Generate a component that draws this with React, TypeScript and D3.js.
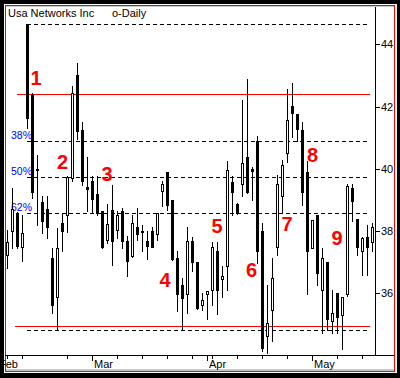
import React from "react";
import * as d3 from "d3";

// Daily OHLC, trading-day index 0..73 (early Feb .. mid May)
const opens = [37.24,38.00,38.58,37.49,44.65,42.37,40.00,38.93,38.71,37.13,35.88,38.26,38.52,39.70,43.01,41.25,39.40,39.61,39.19,38.64,37.71,38.68,38.03,38.64,37.68,37.20,38.13,38.00,37.68,38.00,37.90,39.29,39.90,39.00,37.13,36.27,35.98,37.68,37.01,35.62,35.98,36.11,37.36,36.46,36.88,39.58,38.87,39.51,40.38,39.98,40.89,38.00,34.63,35.46,37.49,39.13,40.51,42.02,41.76,41.25,39.90,37.46,38.52,36.11,37.01,35.11,36.01,35.30,35.98,39.38,38.39,37.36,37.81,37.65];
const highs = [38.03,39.38,38.60,38.52,44.65,42.44,40.44,39.13,39.13,37.46,38.10,38.55,39.77,42.66,43.40,41.50,40.38,39.77,39.77,38.64,38.87,39.48,38.64,38.74,37.84,38.52,38.74,38.19,38.00,38.13,38.58,39.61,39.90,39.00,37.36,36.49,38.13,37.81,37.01,36.01,36.07,37.65,37.65,36.88,40.25,39.77,38.90,42.21,42.89,40.06,41.05,38.26,36.27,37.13,39.80,40.28,42.56,42.76,41.76,41.50,40.25,38.36,38.52,37.46,37.01,36.11,36.01,35.88,39.51,39.51,38.39,37.81,38.19,38.26];
const lows = [36.81,37.46,37.46,37.04,41.31,39.06,38.19,37.94,37.78,35.37,34.82,37.36,37.97,39.61,40.96,39.48,38.64,38.61,38.52,37.46,37.62,36.91,37.78,37.46,36.56,37.18,37.71,37.36,37.10,37.48,37.71,38.80,38.68,37.08,35.43,34.85,35.37,36.72,35.50,35.46,35.17,35.62,35.33,35.88,36.11,38.52,38.55,39.13,39.22,39.00,36.97,34.15,34.08,34.47,37.23,38.61,40.22,41.02,40.89,38.84,35.98,37.45,36.27,34.72,34.82,34.72,34.72,34.21,35.91,38.32,37.23,36.59,36.59,37.36];
const closes = [37.65,38.71,37.52,37.94,41.63,39.25,39.95,38.32,38.13,35.62,37.46,38.00,39.74,42.44,41.21,39.61,39.35,39.03,38.58,37.49,38.23,37.68,38.52,37.68,37.04,38.26,37.90,37.98,37.52,37.49,38.58,39.51,38.84,37.10,35.98,35.85,37.68,37.01,35.53,35.78,36.07,37.49,36.11,36.56,39.96,39.25,38.58,40.19,39.25,39.94,37.36,34.24,35.05,36.49,39.51,40.12,41.57,41.79,41.28,39.25,37.36,38.36,36.65,37.13,35.17,35.37,35.24,35.88,39.45,38.97,37.49,37.78,37.49,38.13];

// Axis ticks (trading-day index positions)
const monthLabels = ["Feb", "Mar", "Apr", "May"];
const monthIdx = [-2, 17, 40, 61];
const weekIdx = [0, 3, 12, 22, 27, 32, 37, 41, 46, 51, 56, 66, 71];
const priceTicks = [36, 38, 40, 42, 44];

// Fibonacci retracement
const fibHigh = 44.65;
const fibLow = 34.82;
const fibRatios = [0.382, 0.5, 0.618];
const fibLabels = ["38%", "50%", "62%"];
const redLevels = [42.4, 34.95];

// Wave annotations
const waveLabels = ["1", "2", "3", "4", "5", "6", "7", "8", "9"];
const waveIdx = [5.8, 11.1, 20, 31.6, 42, 48.9, 56, 61.1, 66];
const wavePrice = [42.69, 39.99, 39.61, 36.2, 37.94, 36.52, 38.0, 40.22, 37.55];

const FONT = "'Liberation Sans', Arial, sans-serif";

export default function App() {
  const n = opens.length;
  const x = d3.scaleLinear().domain([0, n - 1]).range([7, 372]);
  const y = d3.scaleLinear().domain([36, 44]).range([293.3, 44.3]);
  const py = (v: number) => Math.round(y(v));

  const candles = d3.range(n).map((i) => {
    const cx = Math.round(x(i));
    const o = opens[i], c = closes[i];
    const up = c > o;
    const top = py(Math.max(o, c));
    const bot = py(Math.min(o, c));
    return (
      <g key={i}>
        <line x1={cx + 0.5} x2={cx + 0.5} y1={py(highs[i])} y2={py(lows[i]) + 1} stroke="#000" strokeWidth={1} />
        {up ? (
          <rect x={cx - 0.5} y={top + 0.5} width={2} height={Math.max(1, bot - top)} fill="#fff" stroke="#000" strokeWidth={1} />
        ) : (
          <rect x={cx - 1} y={top} width={3} height={Math.max(1, bot - top + 1)} fill="#000" />
        )}
      </g>
    );
  });

  const fibLevels = [fibHigh, ...fibRatios.map((r) => fibHigh - r * (fibHigh - fibLow)), fibLow];

  return (
    <svg width={400} height={378} style={{ position: "absolute", left: 0, top: 0 }} shapeRendering="crispEdges">
      <rect x={0} y={0} width={400} height={378} fill="#000" />
      <rect x={4} y={4} width={393} height={369} fill="#fff" />
      <line x1={6} x2={394} y1={6.5} y2={6.5} stroke="#c8c8c8" />
      <rect x={5} y={369} width={389} height={2} fill="#c8c8c8" />
      <rect x={5.5} y={5.5} width={389} height={366} fill="none" stroke="#ff0000" />

      <text x={8} y={17} fontFamily={FONT} fontSize={11} fill="#000">Usa Networks Inc</text>
      <text x={112} y={17} fontFamily={FONT} fontSize={11} fill="#000">o-Daily</text>

      {/* axes */}
      <line x1={375.5} x2={375.5} y1={7} y2={356} stroke="#000" />
      <line x1={5} x2={394} y1={355.5} y2={355.5} stroke="#000" />
      {priceTicks.map((t) => (
        <g key={t}>
          <line x1={375} x2={380} y1={py(t) + 0.5} y2={py(t) + 0.5} stroke="#000" />
          <text x={381} y={py(t) + 4} fontFamily={FONT} fontSize={11} fill="#000">{t}</text>
        </g>
      ))}
      {weekIdx.map((w) => (
        <line key={"w" + w} x1={Math.round(x(w)) + 0.5} x2={Math.round(x(w)) + 0.5} y1={356} y2={359} stroke="#000" />
      ))}
      {monthIdx.map((m, k) => (
        <g key={"m" + m}>
          <line x1={Math.round(x(m)) + 0.5} x2={Math.round(x(m)) + 0.5} y1={356} y2={361} stroke="#000" />
          <text x={Math.round(x(m)) + 2} y={368} fontFamily={FONT} fontSize={11} fill="#000">{monthLabels[k]}</text>
        </g>
      ))}

      {/* fibonacci levels */}
      {fibLevels.map((lv, k) => (
        <line key={"f" + k} x1={27} x2={367} y1={py(lv) + 0.5} y2={py(lv) + 0.5} stroke="#000" strokeDasharray="4,3" />
      ))}
      {fibRatios.map((r, k) => (
        <text key={"fl" + k} x={11} y={py(fibHigh - r * (fibHigh - fibLow)) - 2} fontFamily={FONT} fontSize={10.5} fill="#0000ff">{fibLabels[k]}</text>
      ))}
      {redLevels.map((lv, k) => (
        <line key={"r" + k} x1={k === 0 ? 17 : 15} x2={370} y1={py(lv) + 0.5} y2={py(lv) + 0.5} stroke="#ff0000" />
      ))}

      {candles}

      {waveLabels.map((l, k) => (
        <text key={"wl" + k} x={x(waveIdx[k])} y={y(wavePrice[k])} textAnchor="middle" fontFamily={FONT} fontWeight="bold" fontSize={20} fill="#ff0000">{l}</text>
      ))}
    </svg>
  );
}
